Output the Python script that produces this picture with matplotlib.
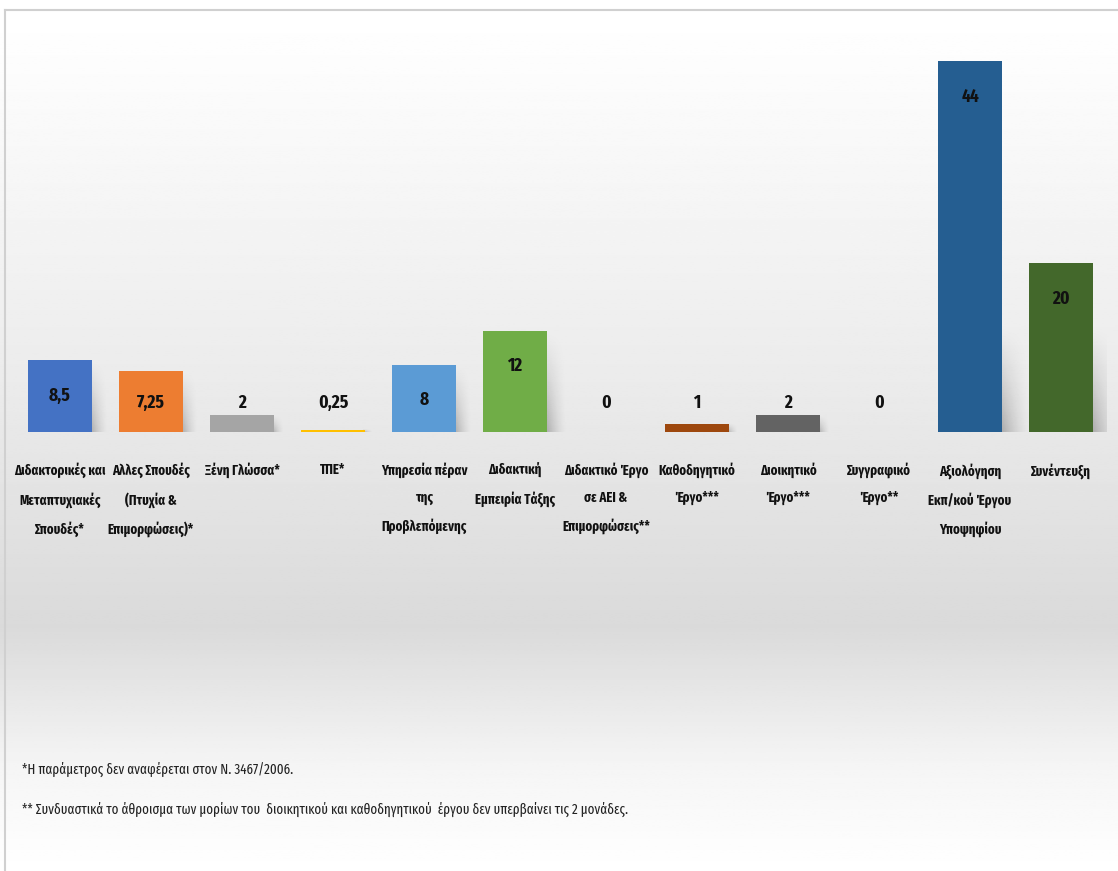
import numpy as np
import matplotlib
matplotlib.use("Agg")
import matplotlib.pyplot as plt

categories = [
    "Διδακτορικές και\nΜεταπτυχιακές\nΣπουδές*",
    "Αλλες Σπουδές\n(Πτυχία &\nΕπιμορφώσεις)*",
    "Ξένη Γλώσσα*",
    "ΤΠΕ*",
    "Υπηρεσία πέραν\nτης\nΠροβλεπόμενης",
    "Διδακτική\nΕμπειρία Τάξης",
    "Διδακτικό Έργο\nσε ΑΕΙ &\nΕπιμορφώσεις**",
    "Καθοδηγητικό\nΈργο***",
    "Διοικητικό\nΈργο***",
    "Συγγραφικό\nΈργο**",
    "Αξιολόγηση\nΕκπ/κού Έργου\nΥποψηφίου",
    "Συνέντευξη",
]
values = [8.5, 7.25, 2, 0.25, 8, 12, 0, 1, 2, 0, 44, 20]
value_labels = ["8,5", "7,25", "2", "0,25", "8", "12", "0", "1", "2", "0", "44", "20"]
colors = ["#4472C4", "#ED7D31", "#A5A5A5", "#FFC000", "#5B9BD5", "#70AD47",
          "#264478", "#9E480E", "#636363", "#997300", "#255E91", "#43682B"]
footnotes = [
    "*Η παράμετρος δεν αναφέρεται στον Ν. 3467/2006.",
    "** Συνδυαστικά το άθροισμα των μορίων του  διοικητικού και καθοδηγητικού  έργου δεν υπερβαίνει τις 2 μονάδες.",
]

FONT = ["Fira Sans Extra Condensed", "DejaVu Sans"]
plt.rcParams["font.family"] = FONT

W, H = 1118, 871
fig = plt.figure(figsize=(W / 100, H / 100), dpi=100)

# background gradient
bg = fig.add_axes([0, 0, 1, 1], zorder=0)
yy = np.linspace(0, 1, 400)  # 0 top -> 1 bottom
stops_y = [0.0, 0.05, 0.45, 0.72, 0.88, 1.0]
stops_v = [1.0, 0.995, 0.92, 0.855, 0.96, 1.0]
grad = np.interp(yy, stops_y, stops_v)
img = np.repeat(grad[:, None], 2, axis=1)
bg.imshow(img, cmap="gray", vmin=0, vmax=1, aspect="auto", extent=[0, 1, 1, 0])
bg.plot([5 / W, 1], [10 / H, 10 / H], color="#d0d0d0", lw=1.5)
bg.plot([5 / W, 5 / W], [10 / H, 1], color="#d0d0d0", lw=1.5)
bg.set_xlim(0, 1)
bg.set_ylim(1, 0)
bg.axis("off")

# chart axes
left = 14.5 / W
width = 1092 / W
base_px = 432
ymax = 46
px_per_unit = 371 / 44
top_px = base_px - ymax * px_per_unit
ax = fig.add_axes([left, 1 - base_px / H, width, (base_px - top_px) / H], zorder=1)
ax.patch.set_alpha(0)
x = np.arange(len(values))
bw = 0.7

# soft shadows (fade to the right and upward)
gx = np.linspace(0, 1, 60)
gy = np.linspace(0, 1, 60)
GX, GY = np.meshgrid(gx, gy)
shadow_alpha = (1 - GX) ** 1.5 * (1 - GY) ** 1.2 * 0.28
shadow_rgba = np.zeros((60, 60, 4))
shadow_rgba[..., 3] = shadow_alpha
for xi, v in zip(x, values):
    if v <= 0:
        continue
    sh = min(v, 12.5)
    sw = 0.08 + 0.22 * min(v, 20) / 20
    ax.imshow(shadow_rgba, extent=[xi + bw / 2 - 0.02, xi + bw / 2 + sw, 0, sh],
              origin="lower", aspect="auto", zorder=1, interpolation="bilinear")

ax.bar(x, values, width=bw, color=colors, zorder=2)

for xi, v, lab in zip(x, values, value_labels):
    ly = max(v - 4.2, 3.4)
    ax.text(xi, ly, lab, ha="center", va="center", fontsize=13.5,
            fontweight="bold", color="#111111", zorder=3, family=FONT)

for xi, cat in zip(x, categories):
    ax.annotate(cat, (xi, 0), xytext=(0, -22), textcoords="offset points",
                ha="center", va="top", fontsize=10, fontweight="bold",
                color="#111111", linespacing=2.1, family=FONT,
                annotation_clip=False)

ax.set_xlim(-0.5, len(values) - 0.5)
ax.set_ylim(0, ymax)
ax.axis("off")

fig.text(22 / W, 1 - 769 / H, footnotes[0], ha="left", va="center",
         fontsize=10.2, color="#222222", family=FONT)
fig.text(22 / W, 1 - 809 / H, footnotes[1], ha="left", va="center",
         fontsize=10.2, color="#222222", family=FONT)

fig.savefig("out.png", dpi=100)
